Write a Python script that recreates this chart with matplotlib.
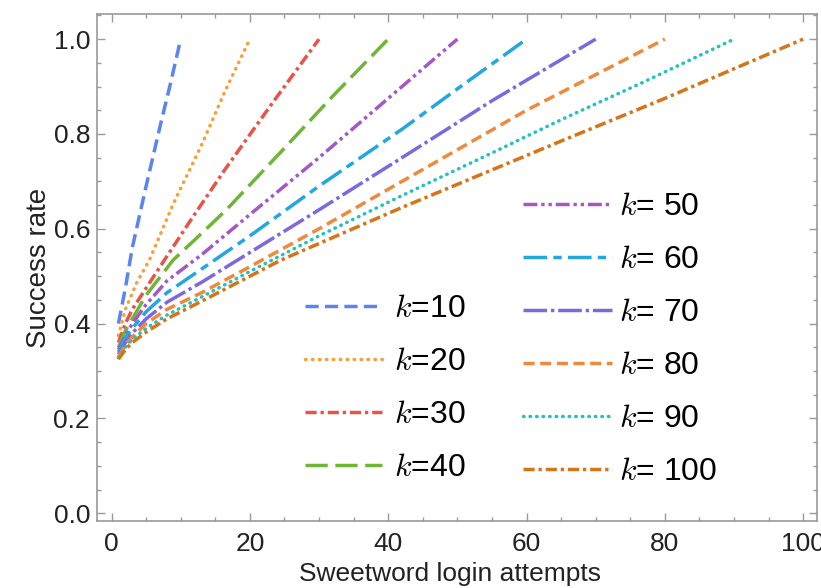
import matplotlib
matplotlib.use("Agg")
import matplotlib.pyplot as plt
from matplotlib.ticker import MultipleLocator

plt.rcParams['font.family'] = ['Liberation Sans', 'DejaVu Sans']
plt.rcParams['mathtext.fontset'] = 'cm'
plt.rcParams['lines.scale_dashes'] = False

# Success rate against login attempts, one curve per number of sweetwords k
x_k10 = [1, 2, 3, 4, 5, 7, 8.5, 10]
y_k10 = [0.40, 0.475, 0.56, 0.625, 0.69, 0.815, 0.905, 1.0]

x_k20 = [1, 2, 3.6, 5.5, 9, 13, 16.4, 20]
y_k20 = [0.375, 0.43, 0.485, 0.535, 0.655, 0.776, 0.89, 1.0]

x_k30 = [1, 2, 3, 5, 6.7, 11.3, 16.4, 23, 30]
y_k30 = [0.36, 0.40, 0.43, 0.475, 0.513, 0.615, 0.725, 0.86, 1.0]

x_k40 = [1, 2, 3, 5, 8.9, 13, 16.6, 25, 32, 40]
y_k40 = [0.35, 0.385, 0.41, 0.46, 0.534, 0.59, 0.64, 0.77, 0.88, 1.0]

x_k50 = [1, 2, 3, 5, 8, 13, 20, 30, 40, 50]
y_k50 = [0.345, 0.375, 0.40, 0.44, 0.49, 0.545, 0.63, 0.75, 0.875, 1.0]

x_k60 = [1, 2, 3, 5, 8, 13, 20, 30, 42, 50, 60]
y_k60 = [0.34, 0.37, 0.39, 0.425, 0.465, 0.515, 0.585, 0.69, 0.81, 0.895, 1.0]

x_k70 = [1, 2, 3, 5, 8, 13, 20, 30, 42, 55, 70]
y_k70 = [0.335, 0.36, 0.38, 0.41, 0.445, 0.487, 0.55, 0.64, 0.75, 0.87, 1.0]

x_k80 = [1, 2, 3, 5, 8, 13, 20, 30, 42, 60, 80]
y_k80 = [0.33, 0.355, 0.372, 0.40, 0.43, 0.465, 0.52, 0.60, 0.70, 0.85, 1.0]

x_k90 = [1, 2, 3, 5, 8, 13, 20, 30, 42, 55, 65, 77, 90]
y_k90 = [0.328, 0.35, 0.367, 0.39, 0.418, 0.456, 0.51, 0.585, 0.67, 0.76, 0.83, 0.91, 1.0]

x_k100 = [1, 2, 3, 5, 8, 13, 24.5, 42, 65, 80, 100]
y_k100 = [0.325, 0.345, 0.36, 0.382, 0.41, 0.447, 0.534, 0.645, 0.785, 0.875, 1.0]

k_values = [10, 20, 30, 40, 50, 60, 70, 80, 90, 100]
colors = ['#5b84f0', '#f7a035', '#e8534b', '#6fb536', '#a358c6',
          '#22a7e0', '#7d68de', '#ef8a3c', '#25c1c1', '#d67518']
dashes = [(9.5, 4.5), (0.4, 4.6), (8, 2.8, 2.4, 2.8), (16, 5.5),
          (10, 2.8, 2.4, 2.8, 2.4, 2.8), (17, 4.5, 6, 4.5),
          (17, 2.8, 2.4, 2.8), (8, 4), (0.4, 4.3), (8, 2.8, 2.4, 2.8)]
round_caps = [False, True, False, False, False, False, False, False, True, False]

curves = [(x_k10, y_k10), (x_k20, y_k20), (x_k30, y_k30), (x_k40, y_k40),
          (x_k50, y_k50), (x_k60, y_k60), (x_k70, y_k70), (x_k80, y_k80),
          (x_k90, y_k90), (x_k100, y_k100)]

fig = plt.figure(figsize=(8.21, 5.88), dpi=100)
ax = fig.add_axes([97 / 821, 1 - 521 / 588, 720 / 821, 507 / 588])

lines = []
for (xs, ys), k, c, d, rc in zip(curves, k_values, colors, dashes, round_caps):
    ln, = ax.plot(xs, ys, color=c, lw=2.5, dashes=d,
                  dash_capstyle='round' if rc else 'butt')
    lines.append(ln)

ax.set_xlim(-2.1, 102)
ax.set_ylim(-0.0163, 1.053)
ax.xaxis.set_major_locator(MultipleLocator(20))
ax.xaxis.set_minor_locator(MultipleLocator(5))
ax.yaxis.set_major_locator(MultipleLocator(0.2))
ax.yaxis.set_minor_locator(MultipleLocator(0.05))
ax.yaxis.set_major_formatter(plt.FuncFormatter(lambda v, p: f'{v:.1f}'))

frame_col = '#999999'
for s in ax.spines.values():
    s.set_color(frame_col)
    s.set_linewidth(1.2)
ax.tick_params(which='both', direction='in', top=True, right=True,
               color=frame_col, width=1.0, labelcolor='#222222', labelsize=19)
ax.tick_params(which='major', length=6)
ax.tick_params(which='minor', length=3)
ax.tick_params(axis='x', pad=8)
ax.tick_params(axis='y', pad=5)

ax.set_xlabel('Sweetword login attempts', fontsize=19, color='#222222')
ax.set_ylabel('Success rate', fontsize=20, color='#222222')
ax.xaxis.set_label_coords(0.49, -0.08)
ax.yaxis.set_label_coords(-0.062, 0.5)

# two legend columns: k=10..40 lower left, k=50..100 on the right
left_labels = [r'$k$=%d' % k for k in k_values[:4]]
right_labels = [r'$k$= %d' % k for k in k_values[4:]]

leg1 = ax.legend(lines[:4], left_labels, loc='upper left',
                 bbox_to_anchor=(305 / 821, 1 - 294 / 588),
                 bbox_transform=fig.transFigure, frameon=False,
                 fontsize=23, handlelength=2.4, handletextpad=0.4,
                 labelspacing=0.72, borderpad=0, borderaxespad=0)
ax.add_artist(leg1)
ax.legend(lines[4:], right_labels, loc='upper left',
          bbox_to_anchor=(523 / 821, 1 - 192 / 588),
          bbox_transform=fig.transFigure, frameon=False,
          fontsize=23, handlelength=2.8, handletextpad=0.2,
          labelspacing=0.72, borderpad=0, borderaxespad=0)

plt.savefig('out.png', dpi=100)
